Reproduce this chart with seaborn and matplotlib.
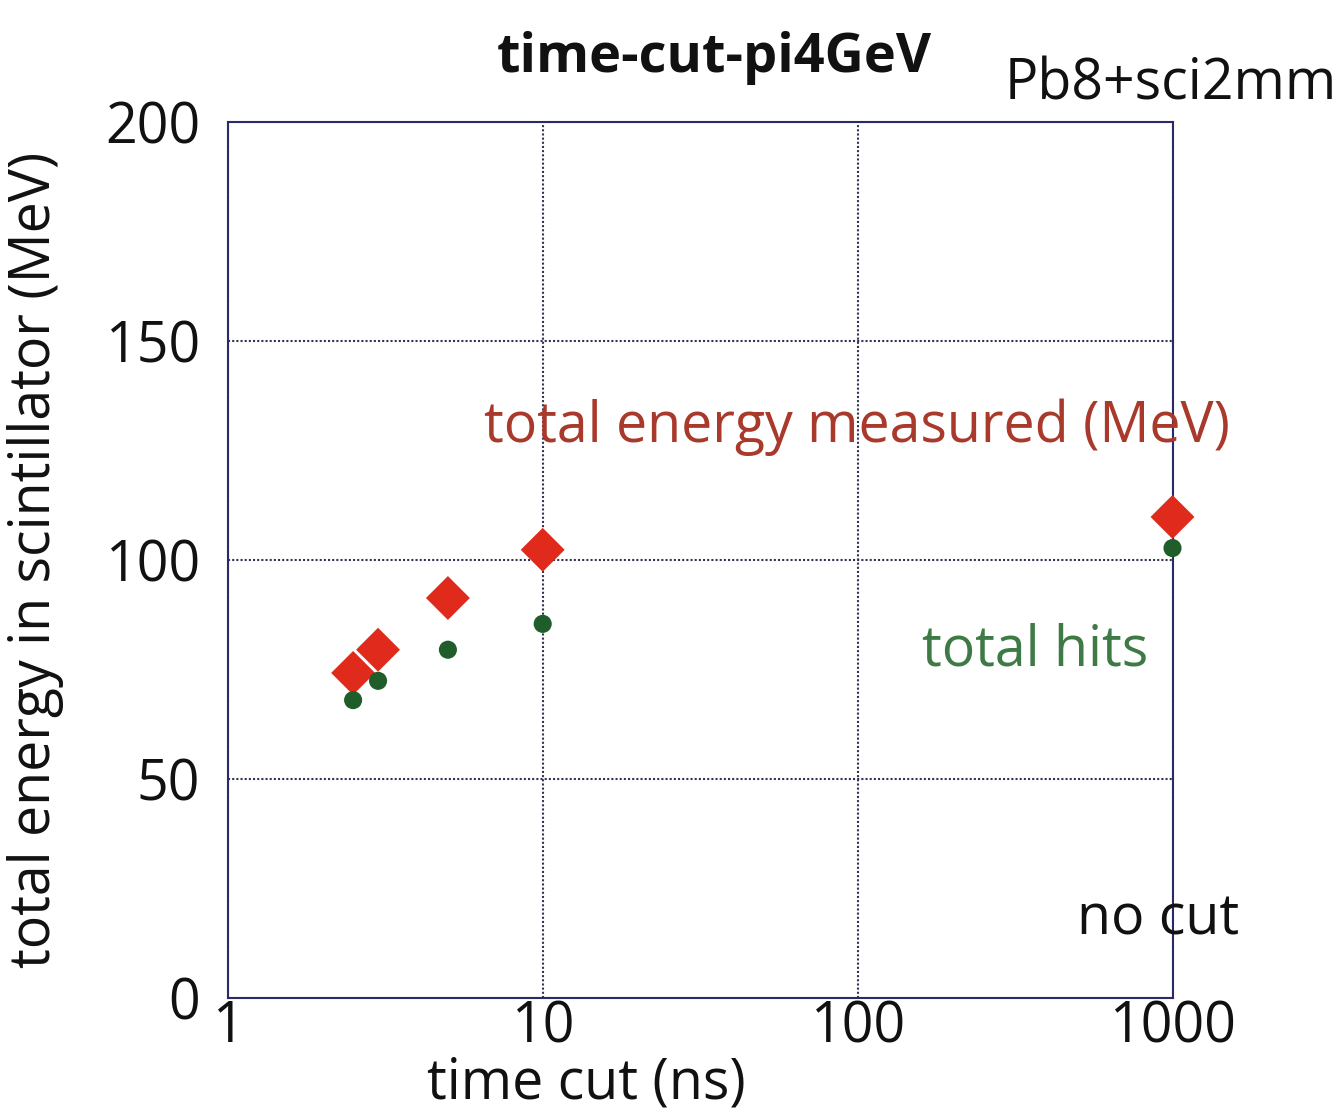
import matplotlib
matplotlib.use("Agg")
import matplotlib.pyplot as plt
import seaborn as sns
import pandas as pd

time_cut_energy = [2.5, 3, 5, 10, 1000]
energy_measured = [74.2, 79.5, 91.3, 102.3, 109.8]
time_cut_hits = [2.5, 3, 5, 10, 1000]
total_hits = [68.0, 72.4, 79.5, 85.4, 102.7]
x_ticks = [1, 10, 100, 1000]
x_tick_labels = ["1", "10", "100", "1000"]
y_ticks = [0, 50, 100, 150, 200]

sns.set_theme(style="white")
plt.rcParams['font.family'] = ['Open Sans', 'DejaVu Sans']

fig = plt.figure(figsize=(13.4, 11.17), dpi=100)
ax = fig.add_axes([0.170, 0.1065, 0.705, 0.7845])

df_e = pd.DataFrame({"t": time_cut_energy, "v": energy_measured})
df_h = pd.DataFrame({"t": time_cut_hits, "v": total_hits})

sns.scatterplot(data=df_e, x="t", y="v", marker="D", s=500, color="#e02a1c",
                edgecolor="none", ax=ax, zorder=3, clip_on=False)
sns.scatterplot(data=df_h, x="t", y="v", marker="o", s=170, color="#1f5e2a",
                edgecolor="none", ax=ax, zorder=4, clip_on=False)

ax.set_xscale("log")
ax.set_xlim(1, 1000)
ax.set_ylim(0, 200)
ax.set_xticks(x_ticks)
ax.set_xticklabels(x_tick_labels)
ax.set_yticks(y_ticks)
ax.minorticks_off()
ax.tick_params(axis="both", labelsize=40, length=0, colors="#111111")
ax.tick_params(axis="y", pad=20)
ax.tick_params(axis="x", pad=1)
ax.grid(True, which="major", linestyle=(0, (1, 1)), color="#333355", linewidth=1.5)
for s in ax.spines.values():
    s.set_color("#2a2a66")
    s.set_linewidth(1.5)

ax.set_xlabel("time cut (ns)", fontsize=40, color="#111111")
ax.set_ylabel("total energy in scintillator (MeV)", fontsize=40, color="#111111")
ax.xaxis.set_label_coords(0.38, -0.066)
ax.yaxis.set_label_coords(-0.173, 0.5)

fig.text(0.533, 0.948, "time-cut-pi4GeV", fontsize=39, fontweight="bold",
         ha="center", va="center", color="#111111")
fig.text(0.998, 0.924, "Pb8+sci2mm", fontsize=40, ha="right", va="center", color="#111111")

ax.text(0.666, 0.651, "total energy measured (MeV)", transform=ax.transAxes,
        fontsize=40, color="#a8392b", ha="center", va="center")
ax.text(0.855, 0.3965, "total hits", transform=ax.transAxes,
        fontsize=40, color="#3e7a45", ha="center", va="center")
ax.text(1.07, 0.089, "no cut", transform=ax.transAxes,
        fontsize=40, color="#111111", ha="right", va="center")

fig.savefig("out.png", dpi=100)
